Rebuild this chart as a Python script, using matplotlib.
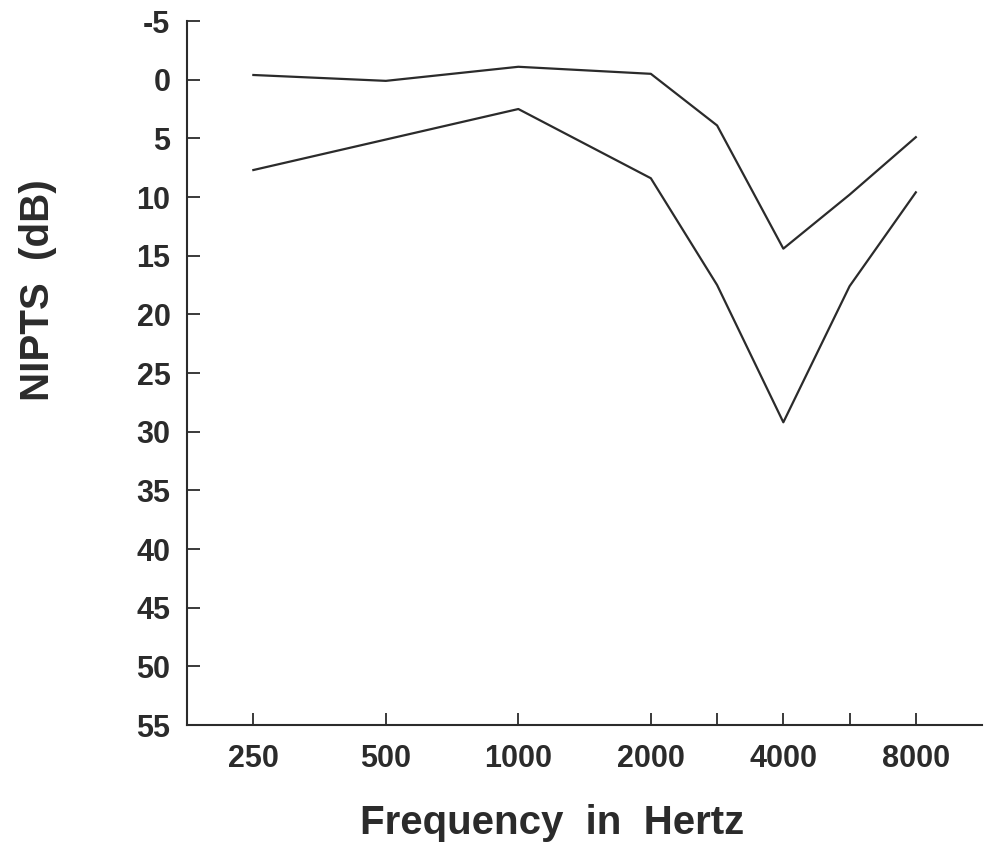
import matplotlib.pyplot as plt

# Colors / font
INK = '#2b2b2b'
plt.rcParams['font.family'] = ['Liberation Sans', 'DejaVu Sans']
plt.rcParams['font.weight'] = 'bold'
plt.rcParams['axes.labelweight'] = 'bold'
plt.rcParams['axes.unicode_minus'] = False

# Data: audiometric frequencies, half-octave slots for 3000 and 6000
freq_labels = ['250', '500', '1000', '2000', '', '4000', '', '8000']
freq_pos = [0, 1, 2, 3, 3.5, 4, 4.5, 5]

upper_db = [-0.4, 0.1, -1.1, -0.5, 3.9, 14.4, 9.8, 4.9]
lower_db = [7.7, 5.1, 2.5, 8.4, 17.5, 29.2, 17.6, 9.6]

y_ticks = list(range(-5, 60, 5))

fig = plt.figure(figsize=(9.9, 8.58), dpi=100)
ax = fig.add_axes([0.189, 0.155, 0.803, 0.8205])

ax.plot(freq_pos, upper_db, color=INK, lw=1.6)
ax.plot(freq_pos, lower_db, color=INK, lw=1.6)

ax.set_xlim(-0.5, 5.5)
ax.set_ylim(55, -5)

for side in ['top', 'right']:
    ax.spines[side].set_visible(False)
for side in ['left', 'bottom']:
    ax.spines[side].set_linewidth(1.5)
    ax.spines[side].set_color(INK)

ax.set_xticks(freq_pos)
ax.set_xticklabels(freq_labels)
ax.set_yticks(y_ticks)
ax.tick_params(axis='both', direction='in', length=9, width=1.3, colors=INK,
               labelsize=22)
ax.tick_params(axis='x', pad=14)
ax.tick_params(axis='y', pad=12)

ax.set_xlabel('Frequency  in  Hertz', fontsize=29, fontweight='bold',
              color=INK, va='top')
ax.xaxis.set_label_coords(0.459, -0.112)
ax.set_ylabel('NIPTS  (dB)', fontsize=29, fontweight='bold', color=INK)
ax.yaxis.set_label_coords(-0.164, 0.618)

fig.savefig('out.png', dpi=100)
